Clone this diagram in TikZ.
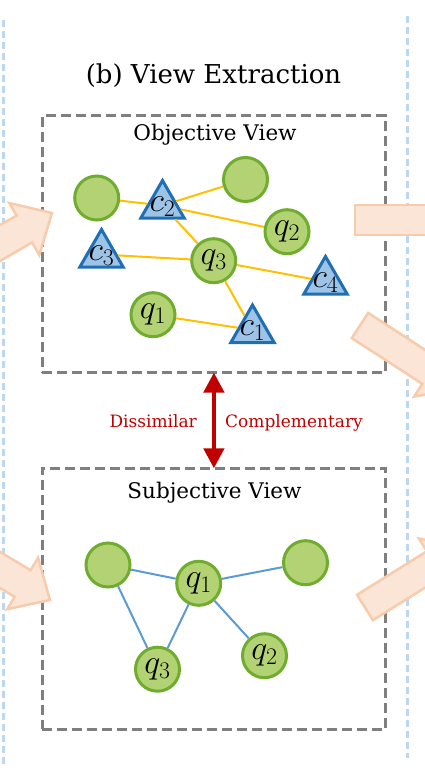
\RequirePackage{fix-cm}
\documentclass[tikz,border=0pt]{standalone}
\usepackage{fontspec}
\setmainfont{DejaVu Serif}
\usetikzlibrary{shapes.geometric,arrows.meta}
\definecolor{qgreen}{HTML}{B3D274}
\definecolor{qgreenD}{HTML}{70AD2F}
\definecolor{cblue}{HTML}{9DC3E6}
\definecolor{cblueD}{HTML}{1F6FB4}
\definecolor{boxgray}{HTML}{7F7F7F}
\definecolor{sepblue}{HTML}{BDD7EE}
\definecolor{darkred}{HTML}{C00000}
\definecolor{arrowfill}{HTML}{FBE5D6}
\definecolor{arrowborder}{HTML}{F8CBAD}
\definecolor{edgeyellow}{HTML}{FFC000}
\definecolor{edgeblue}{HTML}{5B9BD5}
\begin{document}
\begin{tikzpicture}[x=1pt,y=-1pt,
  viewbox/.style={draw=boxgray, line width=3pt, dash pattern=on 10pt off 5pt, inner sep=0pt, outer sep=0pt},
  qnode/.style={circle, draw=qgreenD, fill=qgreen, line width=3pt, minimum size=44pt, inner sep=0pt, font=\fontsize{34}{34}\selectfont},
  cnode/.style={regular polygon, regular polygon sides=3, draw=cblueD, fill=cblue, line width=3pt, minimum size=50pt, inner sep=0pt, font=\fontsize{34}{34}\selectfont},
  yedge/.style={draw=edgeyellow, line width=2pt},
  bedge/.style={draw=edgeblue, line width=2pt},
  sepline/.style={draw=sepblue, line width=3pt, dash pattern=on 7pt off 4pt},
  bigarrow/.style={draw=arrowborder, fill=arrowfill, line width=2.5pt, line join=miter},
  titletext/.style={font=\fontsize{26}{32}\selectfont, anchor=base, inner sep=0pt},
  viewtitle/.style={font=\fontsize{21.5}{26}\selectfont, anchor=base, inner sep=0pt},
  redlabel/.style={font=\fontsize{17}{20}\selectfont, text=darkred, inner sep=0pt},
  redarrow/.style={draw=darkred, line width=4.5pt, {Triangle[width=20pt,length=20pt]}-{Triangle[width=20pt,length=20pt]}}
]
\newcommand{\tlab}[1]{\smash{\makebox[0pt]{\raisebox{-5.5pt}{$#1$}}}}
\useasboundingbox (0,0) rectangle (425,768);
\clip (0,0) rectangle (425,768);

% separators
\draw[sepline] (3,20) -- (3,768);
\draw[sepline] (407,16) -- (407,758);

% title
\node[titletext] (title) at (213.5,83) {(b) View Extraction};

% boxes
\node[viewbox, minimum width=343.7pt, minimum height=256.7pt] (obj) at (213.9,244.2) {};
\node[viewbox, minimum width=343.7pt, minimum height=260.7pt] (sub) at (213.9,598.7) {};
\node[viewtitle] (objt) at (215,140) {Objective View};
\node[viewtitle] (subt) at (214.5,498) {Subjective View};

% objective view nodes
\node[qnode] (oA) at (96.7,198) {};
\node[qnode] (oB) at (245.5,179.5) {};
\node[qnode] (oq2) at (287,231.7) {$q_2$};
\node[qnode] (oq3) at (213.7,260.7) {$q_3$};
\node[qnode] (oq1) at (153,314.7) {$q_1$};
\node[cnode] (oc2) at (162.5,205.5) {\tlab{c_2}};
\node[cnode] (oc3) at (101.5,254.5) {\tlab{c_3}};
\node[cnode] (oc4) at (325.5,281.5) {\tlab{c_4}};
\node[cnode] (oc1) at (252.5,330) {\tlab{c_1}};

\draw[yedge] (oA) -- (oc2);
\draw[yedge] (oc2) -- (oB);
\draw[yedge] (oc2) -- (oq2);
\draw[yedge] (oc2) -- (oq3);
\draw[yedge] (oc3) -- (oq3);
\draw[yedge] (oq3) -- (oc4);
\draw[yedge] (oq3) -- (oc1);
\draw[yedge] (oq1) -- (oc1);

% red arrow and labels
\draw[redarrow] (obj.south) -- (sub.north);
\node[redlabel, anchor=base east] (dis) at (197,427) {Dissimilar};
\node[redlabel, anchor=base west] (comp) at (225,427) {Complementary};

% subjective view nodes
\node[qnode] (sD) at (108,565) {};
\node[qnode] (sq1) at (198.7,583.3) {$q_1$};
\node[qnode] (sE) at (305.5,562.7) {};
\node[qnode] (sq3) at (157.5,669.2) {$q_3$};
\node[qnode] (sq2) at (264.5,655.7) {$q_2$};

\draw[bedge] (sD) -- (sq1);
\draw[bedge] (sq1) -- (sE);
\draw[bedge] (sD) -- (sq3);
\draw[bedge] (sq1) -- (sq3);
\draw[bedge] (sq1) -- (sq2);

% big peach arrows (partly outside the picture)
\draw[bigarrow] (52,213) -- (39.3,255) -- (32.05,242.4) -- (-54.3,292.9) -- (-70.3,265.1) -- (16.55,215.6) -- (9.3,203) -- cycle;
\draw[bigarrow] (50,600) -- (38.05,557.8) -- (30.6,570.2) -- (-55.1,518.7) -- (-71.1,545.3) -- (14.6,596.8) -- (7.2,609.2) -- cycle;
\draw[bigarrow] (355,205) rectangle (460,235);
\draw[bigarrow] (368.2,312.9) -- (438.7,358.7) -- (446.9,346.1) -- (457.4,388.7) -- (414.2,396.5) -- (422.3,383.9) -- (351.8,338.1) -- cycle;
\draw[bigarrow] (357.05,594.8) -- (426.85,551.2) -- (418.9,538.5) -- (461.9,546.9) -- (450.7,589.3) -- (442.75,576.6) -- (372.95,620.2) -- cycle;
\end{tikzpicture}
\end{document}
